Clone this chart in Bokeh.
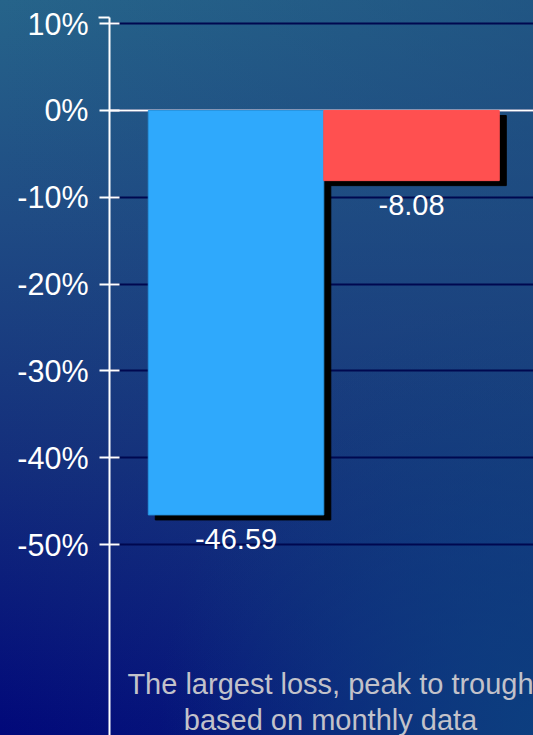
from bokeh.plotting import figure
from bokeh.models import Range1d, FixedTicker, Span, Label
from bokeh.embed import file_html
from bokeh.resources import INLINE
from bokeh.core.properties import value

# ---- data ----
bar_positions = [1, 2]
drawdowns = [-46.59, -8.08]
bar_colors = ["#2fa9fc", "#ff5050"]
bar_edge_colors = ["#2794e0", "#ff5050"]
value_labels = ["-46.59", "-8.08"]
tick_values = [10, 0, -10, -20, -30, -40, -50]
tick_labels = ["10%", "0%", "-10%", "-20%", "-30%", "-40%", "-50%"]
footnote_lines = ["The largest loss, peak to trough", "based on monthly data"]

# ---- layout ----
W, H = 533, 735
LEFT, TOP = 109, 17
y_top, y_bottom = 10.71, -72.0
x_start, x_end = 0.279, 2.695
FONT = "Liberation Sans"

p = figure(width=W, height=H, output_backend="svg", toolbar_location=None,
           x_range=Range1d(x_start, x_end), y_range=Range1d(y_bottom, y_top),
           x_axis_location=None, min_border_left=LEFT, min_border_top=TOP,
           min_border_right=0, min_border_bottom=0)

p.background_fill_alpha = 0
p.border_fill_alpha = 0
p.outline_line_color = None
p.styles = {
    "background": (
        "radial-gradient(ellipse 70% 60% at 100% 100%, rgba(12,66,128,0.85), rgba(12,66,128,0) 100%),"
        "linear-gradient(to right, rgba(28,72,125,0) 0%, rgba(28,72,125,0.5) 100%),"
        "linear-gradient(to bottom, #26648a 0%, #1f4b84 30%, #142f7c 62%, #01087a 100%)"
    )
}

# grid
p.xgrid.visible = False
p.ygrid.grid_line_color = "#00084f"
p.ygrid.grid_line_width = 2

# zero line (below bars)
zero = Span(location=0, dimension="width", line_color="white", line_width=2, level="underlay")
p.add_layout(zero)

# shadows
px_per_x = (W - LEFT) / (x_end - x_start)
px_per_y = (H - TOP) / (y_top - y_bottom)
sdx = 7 / px_per_x
sdy = 5 / px_per_y
p.vbar(x=[b + sdx for b in bar_positions], top=[0 - sdy] * len(drawdowns),
       bottom=[d - sdy for d in drawdowns], width=1.0,
       fill_color="black", line_color="black")

# bars
p.vbar(x=bar_positions, top=[0] * len(drawdowns), bottom=drawdowns, width=1.0,
       fill_color=bar_colors, line_color=bar_edge_colors, line_width=1)

# value labels
p.text(x=bar_positions, y=drawdowns, text=value_labels, text_align="center",
       text_baseline="middle", y_offset=24, text_font=value(FONT),
       text_font_size="29px", text_color="white")

# y axis
ax = p.yaxis[0]
ax.ticker = FixedTicker(ticks=tick_values, minor_ticks=[y_top])
ax.major_label_overrides = {v: l for v, l in zip(tick_values, tick_labels)}
ax.major_label_text_font = FONT
ax.major_label_text_font_size = "30.5px"
ax.major_label_text_color = "white"
ax.major_label_standoff = 10
ax.axis_line_color = "white"
ax.axis_line_width = 2
ax.major_tick_line_color = "white"
ax.major_tick_line_width = 2
ax.major_tick_in = 10
ax.major_tick_out = 10
ax.minor_tick_line_color = "white"
ax.minor_tick_line_width = 2
ax.minor_tick_in = 0
ax.minor_tick_out = 11

# footnote
for line, yy in zip(footnote_lines, [52, 16]):
    p.add_layout(Label(x=221, y=yy, x_units="screen", y_units="screen", text=line,
                       text_align="center", text_baseline="alphabetic",
                       text_font=FONT, text_font_size="29px", text_color="#c2c2ca"))

html = file_html(p, INLINE, title="Largest loss")
html = html.replace("<head>", "<head>\n<style>html,body{margin:0;padding:0;overflow:hidden;background:#0a2a7a;}</style>", 1)
open("out.html", "w").write(html)
